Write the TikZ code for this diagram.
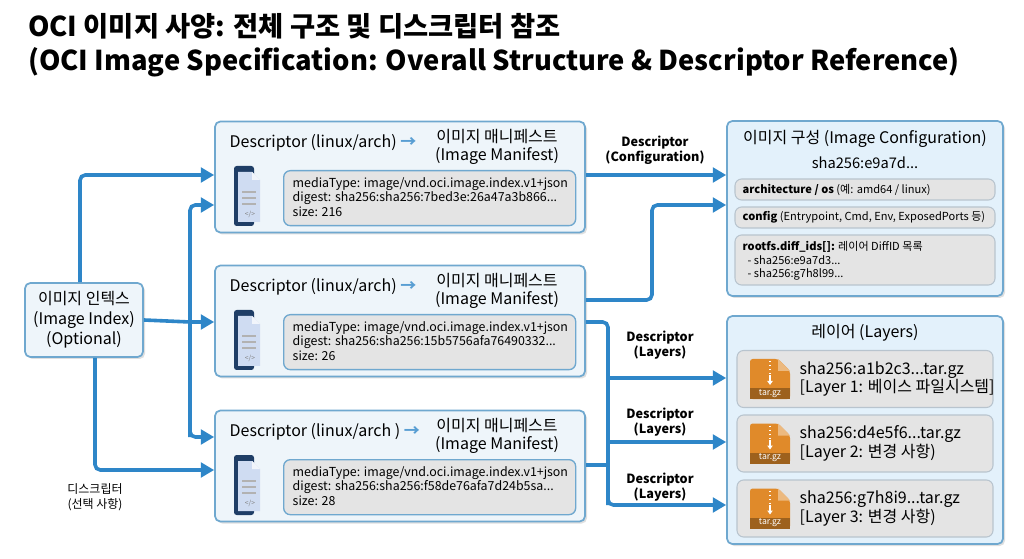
\documentclass[tikz,border=0pt]{standalone}
\usepackage{fontspec}
\setmainfont{Noto Sans CJK KR}
\usetikzlibrary{arrows.meta,shadows}
\definecolor{bl}{HTML}{2E86C8}
\definecolor{bbord}{HTML}{6FA8CF}
\definecolor{bfill}{HTML}{EEF5FA}
\definecolor{cfill}{HTML}{E3F1FB}
\definecolor{gfill}{HTML}{E4E4E4}
\definecolor{gbord}{HTML}{B8C4CE}
\definecolor{navy}{HTML}{1F3E66}
\definecolor{pg}{HTML}{CFDCF2}
\definecolor{org}{HTML}{E08A2A}
\tikzset{
 outer/.style={draw=bbord,line width=1.3pt,fill=bfill,rounded corners=4pt,drop shadow={opacity=0.25,shadow xshift=1.5pt,shadow yshift=-1.5pt}},
 cbox/.style={draw=bbord,line width=1.3pt,fill=cfill,rounded corners=4pt,drop shadow={opacity=0.25,shadow xshift=1.5pt,shadow yshift=-1.5pt}},
 inner/.style={draw=bbord,line width=1pt,fill=gfill,rounded corners=5pt},
 row/.style={draw=gbord,line width=0.8pt,fill=gfill,rounded corners=5pt},
 conn/.style={draw=bl,line width=2.7pt,rounded corners=4pt},
 arr/.style={conn,-{Triangle[length=10pt,width=11pt]}},
 lbl/.style={font=\fontsize{9.5}{11}\selectfont\bfseries,align=center},
}
\newcommand{\docicon}[2]{%
 \fill[navy,rounded corners=2pt] (#1-2,#2-30) rectangle (#1+18,#2+30);
 \fill[pg] (#1+2,#2-24) -- (#1+16,#2-24) -- (#1+24,#2-16) -- (#1+24,#2+26) -- (#1+2,#2+26) -- cycle;
 \fill[white!70!pg] (#1+16,#2-24) -- (#1+16,#2-16) -- (#1+24,#2-16) -- cycle;
 \foreach \yy in {-4,2,8} \draw[gray!60,line width=1pt] (#1+6,#2+\yy) -- (#1+20,#2+\yy);
 \node[font=\fontsize{5}{5}\selectfont,text=gray] at (#1+14,#2+18) {</>};
}
\newcommand{\taricon}[2]{%
 \fill[org,rounded corners=2pt] (#1,#2-20) -- (#1+28,#2-20) -- (#1+40,#2-8) -- (#1+40,#2+20) -- (#1,#2+20) -- cycle;
 \fill[org!60!white] (#1+28,#2-20) -- (#1+28,#2-8) -- (#1+40,#2-8) -- cycle;
 \draw[white,line width=1pt,dotted] (#1+20,#2-18) -- (#1+20,#2-4);
 \draw[white,line width=1.5pt,-{Triangle[length=3pt,width=4pt]}] (#1+20,#2-4) -- (#1+20,#2+6);
 \fill[org!70!black] (#1,#2+9) rectangle (#1+40,#2+20);
 \node[text=white,font=\fontsize{6.5}{7}\selectfont] at (#1+20,#2+14.5) {tar.gz};
}
\begin{document}
\begin{tikzpicture}[x=0.75pt,y=-0.75pt]
\useasboundingbox[fill=white] (0,0) rectangle (1024,559);
\node[anchor=west,font=\fontsize{20.5}{24}\selectfont\bfseries,inner sep=0] (t1) at (28,26) {OCI 이미지 사양: 전체 구조 및 디스크립터 참조};
\node[anchor=west,font=\fontsize{20.5}{24}\selectfont\bfseries,inner sep=0] (t2) at (28,62) {(OCI Image Specification: Overall Structure \& Descriptor Reference)};

% index
\node[outer,minimum width=118*0.75pt,minimum height=74*0.75pt,align=center,font=\fontsize{12}{15}\selectfont] (idx) at (84,320) {이미지 인텍스\\(Image Index)\\(Optional)};

% manifests
\foreach \n/\y/\dig/\sz/\lab in {1/177/7bed3e:26a47a3b866/216/{Descriptor (linux/arch)},2/321/15b5756afa76490332/26/{Descriptor (linux/arch)},3/466/f58de76afa7d24b5sa/28/{Descriptor (linux/arch )}}{
 \node[outer,minimum width=370*0.75pt,minimum height=111*0.75pt] (m\n) at (400,\y) {};
 \node[anchor=west,font=\fontsize{12}{14}\selectfont] (d\n) at (225,\y-34) {\lab\ \textcolor{bl!80}{\textbf{→}}};
 \node[align=center,font=\fontsize{12}{14}\selectfont] (h\n) at (497,\y-30) {이미지 매니페스트\\(Image Manifest)};
 \node[inner,minimum width=292*0.75pt,minimum height=55*0.75pt,anchor=north west] (i\n) at (283,\y-7) {};
 \node[anchor=west,align=left,font=\fontsize{9.3}{11}\selectfont] (tx\n) at (288,\y+20) {mediaType: image/vnd.oci.image.index.v1+json\\digest: sha256:sha256:\dig{}...\\size: \sz};
 \docicon{236}{\y+19}
}

% config
\node[cbox,minimum width=276*0.75pt,minimum height=175*0.75pt] (cfg) at (865,208.5) {};
\node[font=\fontsize{12}{14}\selectfont] (cfgt) at (865,139) {이미지 구성 (Image Configuration)};
\node[font=\fontsize{11}{13}\selectfont] (cfgs) at (865,163) {sha256:e9a7d...};
\node[row,minimum width=260*0.75pt,minimum height=21*0.75pt] (r1) at (865,189.5) {};
\node[anchor=west,font=\fontsize{8.3}{10}\selectfont] at (738,189.5) {\textbf{architecture / os} (예: amd64 / linux)};
\node[row,minimum width=260*0.75pt,minimum height=21*0.75pt] (r2) at (865,217.5) {};
\node[anchor=west,font=\fontsize{8.3}{10}\selectfont] at (738,217.5) {\textbf{config} (Entrypoint, Cmd, Env, ExposedPorts 등)};
\node[row,minimum width=260*0.75pt,minimum height=50*0.75pt] (r3) at (865,260) {};
\node[anchor=north west,align=left,font=\fontsize{8.3}{10}\selectfont] at (738,237) {\textbf{rootfs.diff\_ids[]:} 레이어 DiffID 목록\\\ \ - sha256:e9a7d3...\\\ \ - sha256:g7h8l99...};

% layers
\node[cbox,minimum width=276*0.75pt,minimum height=228*0.75pt] (lay) at (865,430) {};
\node[font=\fontsize{12}{14}\selectfont] (layt) at (865,333) {레이어 (Layers)};
\foreach \n/\y/\h/\t in {1/379/a1b2c3/{베이스 파일시스템]},2/443.5/d4e5f6/{변경 사항)},3/508.5/g7h8i9/{변경 사항)}}{
 \node[row,minimum width=256*0.75pt,minimum height=57*0.75pt] (l\n) at (865,\y) {};
 \taricon{750}{\y}
 \node[anchor=west,align=left,font=\fontsize{12}{14}\selectfont] (lt\n) at (795,\y) {sha256:\h{}...tar.gz\\{}[Layer \n: \t};
}

% left connectors
\coordinate (jx) at (190,322);
\draw[arr] (idx.north -| 80,0) |- (m1.west |- 0,175);
\draw[conn] (idx.east) -- (jx);
\draw[arr] (190,437) |- (m1.west |- 0,205);
\draw[arr] (jx) -- (m2.west |- 0,322);
\draw[arr] (190,322) |- (m3.west |- 0,437);
\draw[arr] (idx.south -| 95,0) |- (m3.west |- 0,470);
\node[font=\fontsize{9}{11}\selectfont,align=center] (optl) at (95,497) {디스크립터\\(선택 사항)};

% right connectors
\draw[arr] (m1.east |- 0,175) -- (cfg.west |- 0,175);
\node[lbl] (lc) at (655,150) {Descriptor\\(Configuration)};
\draw[arr] (m2.east |- 0,300) -- (652,300) |- (cfg.west |- 0,205);
\draw[conn] (m2.east |- 0,322) -- (608,322) -- (608,505);
\draw[conn] (m3.east |- 0,465) -- (608,465);
\draw[arr] (608,378) -- (lay.west |- 0,378);
\draw[arr] (608,442) -- (lay.west |- 0,442);
\draw[arr] (608,490) |- (lay.west |- 0,505);
\node[lbl] (ll1) at (660,345) {Descriptor\\(Layers)};
\node[lbl] (ll2) at (660,422) {Descriptor\\(Layers)};
\node[lbl] (ll3) at (660,487) {Descriptor\\(Layers)};
\end{tikzpicture}
\end{document}
